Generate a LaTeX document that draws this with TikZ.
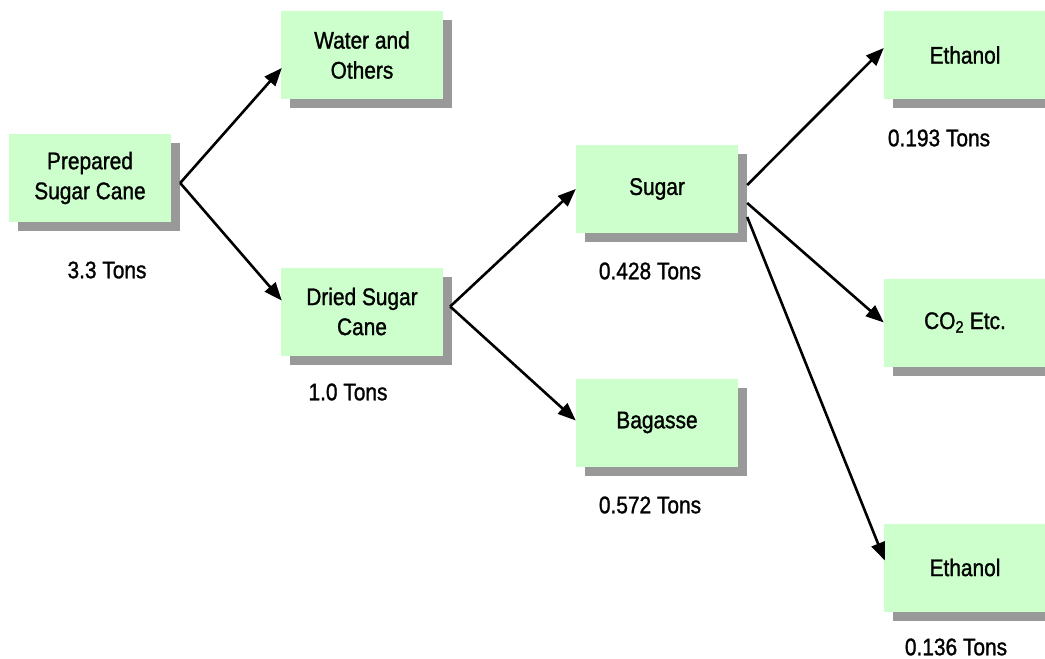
\documentclass[tikz,border=0pt]{standalone}
\usepackage{fontspec}
\setmainfont{Liberation Sans}[FakeStretch=0.87, FakeBold=1.2]
\usetikzlibrary{shadows,arrows.meta,calc}
\definecolor{boxfill}{HTML}{CCFFCC}
\definecolor{shadowgray}{HTML}{999999}
\tikzset{
  flowbox/.style={rectangle, fill=boxfill, minimum width=162pt, minimum height=88pt,
    align=center, inner sep=0pt, font=\fontsize{24}{30}\selectfont,
    drop shadow={shadow xshift=9pt, shadow yshift=-9pt, fill=shadowgray, opacity=1}},
  amount/.style={font=\fontsize{24}{30}\selectfont, inner sep=0pt},
  flow/.style={line width=2.6pt, -{Triangle[length=18pt,width=14pt]}}
}
\begin{document}
\begin{tikzpicture}[x=1pt, y=-1pt]
\useasboundingbox (0,0) rectangle (1045,659);

% process stages
\node[flowbox] (prep)    at (90,178)    {Prepared\\Sugar Cane};
\node[flowbox] (water)   at (362,55)    {Water and\\Others};
\node[flowbox] (dried)   at (362,311.5) {Dried Sugar\\Cane};
\node[flowbox] (sugar)   at (657,189)   {Sugar};
\node[flowbox] (bagasse) at (657,422.5) {Bagasse};
\node[flowbox] (eth1)    at (965,55)    {Ethanol};
\node[flowbox] (co2)     at (965,322.5) {CO\textsubscript{2} Etc.};
\node[flowbox] (eth2)    at (965,567.5) {Ethanol};

% quantities
\node[amount] (qprep)  at (107,270) {3.3 Tons};
\node[amount] (qdried) at (348,392) {1.0 Tons};
\node[amount] (qsugar) at (650,271) {0.428 Tons};
\node[amount] (qbag)   at (650,505) {0.572 Tons};
\node[amount] (qeth1)  at (939,138) {0.193 Tons};
\node[amount] (qeth2)  at (956,647) {0.136 Tons};

% flows
\draw[flow] ($(prep.east)+(9,5)$)   -- ($(water.west)+(1,13)$);
\draw[flow] ($(prep.east)+(9,5)$)   -- ($(dried.west)+(1,-11)$);
\draw[flow] ($(dried.east)+(7,-5)$) -- ($(sugar.west)+(0,0)$);
\draw[flow] ($(dried.east)+(7,-5)$) -- ($(bagasse.west)+(0,-2)$);
\draw[flow] ($(sugar.east)+(9,-4)$) -- ($(eth1.west)+(0,-7)$);
\draw[flow] ($(sugar.east)+(9,14)$) -- ($(co2.west)+(0,0)$);
\draw[flow] ($(sugar.east)+(9,28)$) -- ($(eth2.west)+(1,-7)$);
\end{tikzpicture}
\end{document}
